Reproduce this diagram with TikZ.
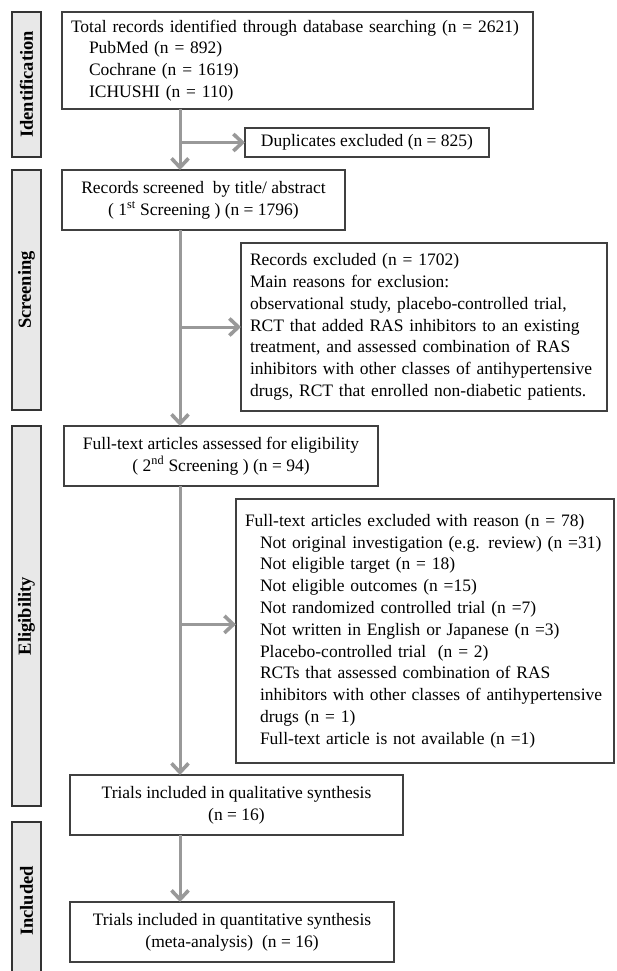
\documentclass[tikz,border=0pt]{standalone}
\usepackage{fontspec}
\setmainfont{Liberation Serif}
\usetikzlibrary{arrows.meta}
\definecolor{flowgray}{HTML}{999999}
\definecolor{framegray}{HTML}{404040}
\definecolor{barfill}{HTML}{E8E8E8}
\begin{document}
\begin{tikzpicture}[x=1pt,y=-1pt,inner sep=0pt,outer sep=0pt,
font=\fontsize{17.5}{21.8}\selectfont,
recblock/.style={draw=framegray,line width=1.2pt,rectangle,anchor=north west,inner xsep=9pt},
stageblock/.style={draw=black!80,fill=barfill,line width=1.5pt,rectangle,rotate=90,minimum height=29pt,font=\fontsize{18.5}{20}\selectfont\bfseries},
flow/.style={draw=flowgray,line width=3pt,-{Straight Barb[length=9pt,width=17pt,line width=3.6pt]}}]
\clip (0,0) rectangle (616,971);
% stages
\node[stageblock,minimum width=145pt] (ident) at (26.5,84.5) {Identification};
\node[stageblock,minimum width=240pt] (screen) at (26.5,290) {Screening};
\node[stageblock,minimum width=380pt] (elig) at (26.5,616) {Eligibility};
\node[stageblock,minimum width=158pt] (incl) at (26.5,901) {Included};
% records
\node[recblock,minimum width=471pt,minimum height=97pt,text width=453pt,align=left] (total) at (62,12)
 {Total records identified through database searching (n = 2621)\\
  \hspace*{18pt}PubMed (n = 892)\\
  \hspace*{18pt}Cochrane (n = 1619)\\
  \hspace*{18pt}ICHUSHI (n = 110)};
\node[recblock,minimum width=244pt,minimum height=29pt,align=center] (dup) at (245,128)
 {Duplicates excluded (n = 825)};
\node[recblock,minimum width=283pt,minimum height=60pt,align=center] (screened) at (62,170)
 {Records screened\ \ by title/ abstract\\
  ( 1\textsuperscript{st} Screening ) (n = 1796)};
\node[recblock,minimum width=366pt,minimum height=168pt,text width=348pt,align=left] (recexcl) at (241,243)
 {Records excluded (n = 1702)\\
  Main reasons for exclusion:\\
  observational study, placebo-controlled trial,\\
  RCT that added RAS inhibitors to an existing\\
  treatment, and assessed combination of RAS\\
  inhibitors with other classes of antihypertensive\\
  drugs, RCT that enrolled non-diabetic patients.};
\node[recblock,minimum width=314pt,minimum height=60pt,align=center] (fullass) at (64,426)
 {Full-text articles assessed for eligibility\\
  ( 2\textsuperscript{nd} Screening ) (n = 94)};
\node[recblock,minimum width=378pt,minimum height=264pt,text width=360pt,align=left] (ftexcl) at (236,499)
 {Full-text articles excluded with reason (n = 78)\\
  \hspace*{15pt}Not original investigation (e.g. review) (n =31)\\
  \hspace*{15pt}Not eligible target (n = 18)\\
  \hspace*{15pt}Not eligible outcomes (n =15)\\
  \hspace*{15pt}Not randomized controlled trial (n =7)\\
  \hspace*{15pt}Not written in English or Japanese (n =3)\\
  \hspace*{15pt}Placebo-controlled trial\ \ (n = 2)\\
  \hspace*{15pt}RCTs that assessed combination of RAS\\
  \hspace*{15pt}inhibitors with other classes of antihypertensive\\
  \hspace*{15pt}drugs (n = 1)\\
  \hspace*{15pt}Full-text article is not available (n =1)};
\node[recblock,minimum width=333pt,minimum height=60pt,align=center] (qual) at (70,775)
 {Trials included in qualitative synthesis\\
  (n = 16)};
\node[recblock,minimum width=324pt,minimum height=60pt,align=center] (quant) at (70,902)
 {Trials included in quantitative synthesis\\
  (meta-analysis)\ \ (n = 16)};
% arrows
\coordinate (spine) at (180,0);
\draw[flow] (spine |- total.south) -- (spine |- screened.north);
\draw[flow] (spine |- dup.west) -- (dup.west);
\draw[flow] (spine |- screened.south) -- (spine |- fullass.north);
\draw[flow] (spine |- recexcl.west) -- (recexcl.west);
\draw[flow] (spine |- fullass.south) -- (spine |- qual.north);
\draw[flow] (spine |- ftexcl.178.5) -- (ftexcl.178.5);
\draw[flow] (spine |- qual.south) -- (spine |- quant.north);
\end{tikzpicture}
\end{document}
